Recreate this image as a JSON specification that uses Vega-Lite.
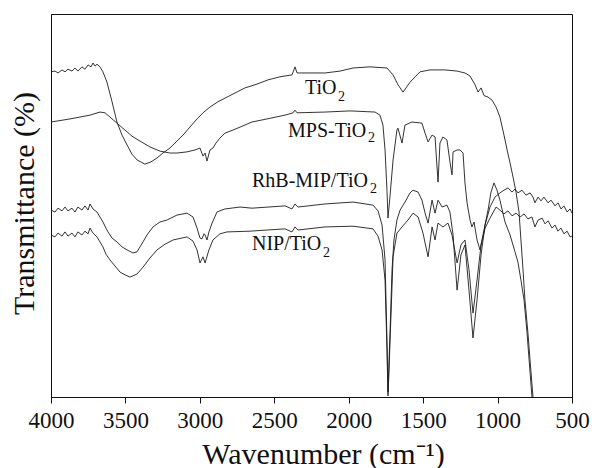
{
  "$schema": "https://vega.github.io/schema/vega-lite/v6.json",
  "width": 521,
  "height": 383,
  "autosize": "none",
  "padding": {"left": 51, "top": 14, "right": 20, "bottom": 71},
  "background": "white",
  "config": {
    "view": {"stroke": "#111", "strokeWidth": 1},
    "font": "Liberation Serif, Times New Roman, serif"
  },
  "datasets": {
    "spectra": [
      {"s":"TiO2","w":4000,"t":84.9},{"s":"TiO2","w":3973,"t":85.1},{"s":"TiO2","w":3953,"t":84.6},{"s":"TiO2","w":3926,"t":85.4},{"s":"TiO2","w":3906,"t":84.9},{"s":"TiO2","w":3886,"t":85.6},{"s":"TiO2","w":3859,"t":85.1},{"s":"TiO2","w":3839,"t":85.9},{"s":"TiO2","w":3819,"t":85.1},{"s":"TiO2","w":3792,"t":86.2},{"s":"TiO2","w":3772,"t":85.6},{"s":"TiO2","w":3751,"t":86.7},{"s":"TiO2","w":3731,"t":86.2},{"s":"TiO2","w":3718,"t":87.2},{"s":"TiO2","w":3704,"t":86.4},{"s":"TiO2","w":3691,"t":86.9},{"s":"TiO2","w":3671,"t":86.2},{"s":"TiO2","w":3651,"t":84.9},{"s":"TiO2","w":3624,"t":82.2},{"s":"TiO2","w":3590,"t":77.1},{"s":"TiO2","w":3557,"t":71.8},{"s":"TiO2","w":3523,"t":68.4},{"s":"TiO2","w":3489,"t":65.8},{"s":"TiO2","w":3456,"t":63.4},{"s":"TiO2","w":3422,"t":61.9},{"s":"TiO2","w":3369,"t":60.8},{"s":"TiO2","w":3328,"t":61.4},{"s":"TiO2","w":3288,"t":62.4},{"s":"TiO2","w":3248,"t":63.7},{"s":"TiO2","w":3201,"t":65.0},{"s":"TiO2","w":3154,"t":66.8},{"s":"TiO2","w":3113,"t":68.4},{"s":"TiO2","w":3066,"t":70.5},{"s":"TiO2","w":3019,"t":72.6},{"s":"TiO2","w":2979,"t":74.2},{"s":"TiO2","w":2932,"t":75.7},{"s":"TiO2","w":2878,"t":77.1},{"s":"TiO2","w":2798,"t":78.7},{"s":"TiO2","w":2697,"t":80.7},{"s":"TiO2","w":2616,"t":81.7},{"s":"TiO2","w":2542,"t":82.8},{"s":"TiO2","w":2462,"t":83.6},{"s":"TiO2","w":2381,"t":84.1},{"s":"TiO2","w":2368,"t":85.4},{"s":"TiO2","w":2361,"t":86.2},{"s":"TiO2","w":2347,"t":84.6},{"s":"TiO2","w":2327,"t":84.6},{"s":"TiO2","w":2159,"t":84.6},{"s":"TiO2","w":2058,"t":85.1},{"s":"TiO2","w":1971,"t":85.9},{"s":"TiO2","w":1857,"t":86.2},{"s":"TiO2","w":1743,"t":85.9},{"s":"TiO2","w":1702,"t":84.1},{"s":"TiO2","w":1669,"t":81.5},{"s":"TiO2","w":1635,"t":79.6},{"s":"TiO2","w":1615,"t":80.7},{"s":"TiO2","w":1588,"t":82.2},{"s":"TiO2","w":1554,"t":83.6},{"s":"TiO2","w":1521,"t":84.9},{"s":"TiO2","w":1454,"t":85.4},{"s":"TiO2","w":1353,"t":85.4},{"s":"TiO2","w":1272,"t":85.1},{"s":"TiO2","w":1219,"t":84.6},{"s":"TiO2","w":1185,"t":83.8},{"s":"TiO2","w":1151,"t":81.5},{"s":"TiO2","w":1131,"t":79.6},{"s":"TiO2","w":1111,"t":80.7},{"s":"TiO2","w":1091,"t":78.7},{"s":"TiO2","w":1064,"t":78.3},{"s":"TiO2","w":1037,"t":77.5},{"s":"TiO2","w":1010,"t":75.7},{"s":"TiO2","w":984,"t":73.1},{"s":"TiO2","w":957,"t":68.4},{"s":"TiO2","w":936,"t":64.5},{"s":"TiO2","w":916,"t":61.1},{"s":"TiO2","w":896,"t":57.4},{"s":"TiO2","w":876,"t":53.5},{"s":"TiO2","w":856,"t":48.3},{"s":"TiO2","w":843,"t":41.0},{"s":"TiO2","w":829,"t":33.2},{"s":"TiO2","w":816,"t":25.3},{"s":"TiO2","w":796,"t":16.7},{"s":"TiO2","w":782,"t":9.7},{"s":"TiO2","w":762,"t":0.0},{"s":"TiO2","w":755,"t":-1.3},

      {"s":"MPS","w":4000,"t":71.8},{"s":"MPS","w":3872,"t":72.6},{"s":"MPS","w":3738,"t":73.6},{"s":"MPS","w":3671,"t":74.4},{"s":"MPS","w":3637,"t":74.2},{"s":"MPS","w":3604,"t":73.1},{"s":"MPS","w":3557,"t":71.5},{"s":"MPS","w":3503,"t":69.7},{"s":"MPS","w":3456,"t":68.1},{"s":"MPS","w":3402,"t":66.8},{"s":"MPS","w":3335,"t":65.3},{"s":"MPS","w":3268,"t":64.2},{"s":"MPS","w":3201,"t":63.7},{"s":"MPS","w":3154,"t":63.7},{"s":"MPS","w":3086,"t":64.0},{"s":"MPS","w":3033,"t":64.5},{"s":"MPS","w":2999,"t":65.0},{"s":"MPS","w":2979,"t":62.9},{"s":"MPS","w":2965,"t":63.7},{"s":"MPS","w":2952,"t":61.6},{"s":"MPS","w":2932,"t":64.5},{"s":"MPS","w":2912,"t":65.0},{"s":"MPS","w":2892,"t":66.3},{"s":"MPS","w":2865,"t":67.6},{"s":"MPS","w":2831,"t":68.9},{"s":"MPS","w":2777,"t":69.7},{"s":"MPS","w":2650,"t":71.8},{"s":"MPS","w":2549,"t":72.6},{"s":"MPS","w":2428,"t":73.6},{"s":"MPS","w":2374,"t":74.2},{"s":"MPS","w":2361,"t":74.9},{"s":"MPS","w":2347,"t":74.2},{"s":"MPS","w":2159,"t":74.4},{"s":"MPS","w":1991,"t":74.7},{"s":"MPS","w":1823,"t":74.4},{"s":"MPS","w":1790,"t":73.6},{"s":"MPS","w":1770,"t":71.0},{"s":"MPS","w":1756,"t":64.5},{"s":"MPS","w":1743,"t":54.0},{"s":"MPS","w":1736,"t":46.7},{"s":"MPS","w":1722,"t":52.7},{"s":"MPS","w":1702,"t":61.9},{"s":"MPS","w":1676,"t":69.7},{"s":"MPS","w":1669,"t":70.2},{"s":"MPS","w":1642,"t":66.3},{"s":"MPS","w":1622,"t":71.0},{"s":"MPS","w":1575,"t":71.8},{"s":"MPS","w":1508,"t":71.5},{"s":"MPS","w":1487,"t":68.9},{"s":"MPS","w":1467,"t":66.6},{"s":"MPS","w":1440,"t":68.4},{"s":"MPS","w":1420,"t":67.9},{"s":"MPS","w":1400,"t":56.1},{"s":"MPS","w":1387,"t":66.3},{"s":"MPS","w":1367,"t":67.9},{"s":"MPS","w":1340,"t":67.1},{"s":"MPS","w":1320,"t":61.4},{"s":"MPS","w":1306,"t":58.0},{"s":"MPS","w":1299,"t":64.0},{"s":"MPS","w":1272,"t":64.5},{"s":"MPS","w":1252,"t":64.5},{"s":"MPS","w":1232,"t":63.7},{"s":"MPS","w":1219,"t":55.9},{"s":"MPS","w":1205,"t":50.7},{"s":"MPS","w":1185,"t":46.2},{"s":"MPS","w":1172,"t":44.4},{"s":"MPS","w":1158,"t":45.7},{"s":"MPS","w":1138,"t":41.0},{"s":"MPS","w":1118,"t":38.4},{"s":"MPS","w":1098,"t":42.3},{"s":"MPS","w":1064,"t":48.8},{"s":"MPS","w":1044,"t":53.5},{"s":"MPS","w":1024,"t":55.9},{"s":"MPS","w":1004,"t":54.0},{"s":"MPS","w":984,"t":51.4},{"s":"MPS","w":950,"t":45.7},{"s":"MPS","w":916,"t":42.3},{"s":"MPS","w":883,"t":37.9},{"s":"MPS","w":863,"t":35.2},{"s":"MPS","w":843,"t":30.5},{"s":"MPS","w":822,"t":25.3},{"s":"MPS","w":802,"t":16.7},{"s":"MPS","w":769,"t":0.0},{"s":"MPS","w":762,"t":-1.8},

      {"s":"RhB","w":4000,"t":48.8},{"s":"RhB","w":3973,"t":48.3},{"s":"RhB","w":3953,"t":49.3},{"s":"RhB","w":3926,"t":48.6},{"s":"RhB","w":3906,"t":49.6},{"s":"RhB","w":3886,"t":48.6},{"s":"RhB","w":3859,"t":49.3},{"s":"RhB","w":3839,"t":48.3},{"s":"RhB","w":3819,"t":49.6},{"s":"RhB","w":3792,"t":48.8},{"s":"RhB","w":3772,"t":49.9},{"s":"RhB","w":3751,"t":48.8},{"s":"RhB","w":3738,"t":50.4},{"s":"RhB","w":3718,"t":49.1},{"s":"RhB","w":3691,"t":48.3},{"s":"RhB","w":3671,"t":47.0},{"s":"RhB","w":3651,"t":45.7},{"s":"RhB","w":3631,"t":44.1},{"s":"RhB","w":3617,"t":43.1},{"s":"RhB","w":3590,"t":41.5},{"s":"RhB","w":3557,"t":40.5},{"s":"RhB","w":3523,"t":39.2},{"s":"RhB","w":3489,"t":38.4},{"s":"RhB","w":3449,"t":37.6},{"s":"RhB","w":3422,"t":37.9},{"s":"RhB","w":3402,"t":39.2},{"s":"RhB","w":3382,"t":40.5},{"s":"RhB","w":3355,"t":42.3},{"s":"RhB","w":3315,"t":44.4},{"s":"RhB","w":3268,"t":45.7},{"s":"RhB","w":3221,"t":46.2},{"s":"RhB","w":3154,"t":47.5},{"s":"RhB","w":3086,"t":48.0},{"s":"RhB","w":3046,"t":47.0},{"s":"RhB","w":3019,"t":44.1},{"s":"RhB","w":2999,"t":41.5},{"s":"RhB","w":2986,"t":41.3},{"s":"RhB","w":2972,"t":42.6},{"s":"RhB","w":2965,"t":42.3},{"s":"RhB","w":2952,"t":41.0},{"s":"RhB","w":2939,"t":43.1},{"s":"RhB","w":2918,"t":45.4},{"s":"RhB","w":2885,"t":48.3},{"s":"RhB","w":2831,"t":49.1},{"s":"RhB","w":2730,"t":49.6},{"s":"RhB","w":2650,"t":49.3},{"s":"RhB","w":2428,"t":49.9},{"s":"RhB","w":2381,"t":49.1},{"s":"RhB","w":2361,"t":50.4},{"s":"RhB","w":2341,"t":49.6},{"s":"RhB","w":2159,"t":50.4},{"s":"RhB","w":1971,"t":50.9},{"s":"RhB","w":1837,"t":50.1},{"s":"RhB","w":1803,"t":48.6},{"s":"RhB","w":1776,"t":44.9},{"s":"RhB","w":1756,"t":35.8},{"s":"RhB","w":1743,"t":14.9},{"s":"RhB","w":1736,"t":1.3},{"s":"RhB","w":1729,"t":9.7},{"s":"RhB","w":1722,"t":17.5},{"s":"RhB","w":1709,"t":33.2},{"s":"RhB","w":1696,"t":41.0},{"s":"RhB","w":1676,"t":46.2},{"s":"RhB","w":1655,"t":48.8},{"s":"RhB","w":1622,"t":50.9},{"s":"RhB","w":1588,"t":53.3},{"s":"RhB","w":1568,"t":54.0},{"s":"RhB","w":1534,"t":53.5},{"s":"RhB","w":1508,"t":51.4},{"s":"RhB","w":1487,"t":48.0},{"s":"RhB","w":1467,"t":45.4},{"s":"RhB","w":1440,"t":51.4},{"s":"RhB","w":1420,"t":48.0},{"s":"RhB","w":1400,"t":51.4},{"s":"RhB","w":1373,"t":49.6},{"s":"RhB","w":1340,"t":50.1},{"s":"RhB","w":1320,"t":48.3},{"s":"RhB","w":1299,"t":42.3},{"s":"RhB","w":1272,"t":27.9},{"s":"RhB","w":1246,"t":37.1},{"s":"RhB","w":1219,"t":39.7},{"s":"RhB","w":1192,"t":27.9},{"s":"RhB","w":1165,"t":15.4},{"s":"RhB","w":1138,"t":25.3},{"s":"RhB","w":1111,"t":37.1},{"s":"RhB","w":1084,"t":44.9},{"s":"RhB","w":1051,"t":49.6},{"s":"RhB","w":1017,"t":52.2},{"s":"RhB","w":984,"t":53.3},{"s":"RhB","w":957,"t":54.0},{"s":"RhB","w":930,"t":54.6},{"s":"RhB","w":903,"t":53.5},{"s":"RhB","w":883,"t":54.3},{"s":"RhB","w":863,"t":53.3},{"s":"RhB","w":836,"t":54.0},{"s":"RhB","w":809,"t":52.7},{"s":"RhB","w":782,"t":53.3},{"s":"RhB","w":762,"t":52.2},{"s":"RhB","w":749,"t":50.7},{"s":"RhB","w":728,"t":52.2},{"s":"RhB","w":708,"t":51.2},{"s":"RhB","w":688,"t":52.2},{"s":"RhB","w":661,"t":50.7},{"s":"RhB","w":641,"t":51.4},{"s":"RhB","w":614,"t":49.9},{"s":"RhB","w":594,"t":50.7},{"s":"RhB","w":574,"t":49.1},{"s":"RhB","w":554,"t":49.9},{"s":"RhB","w":533,"t":48.3},{"s":"RhB","w":513,"t":49.1},{"s":"RhB","w":500,"t":48.0},

      {"s":"NIP","w":4000,"t":42.3},{"s":"NIP","w":3973,"t":41.8},{"s":"NIP","w":3953,"t":42.8},{"s":"NIP","w":3926,"t":42.0},{"s":"NIP","w":3906,"t":43.1},{"s":"NIP","w":3886,"t":42.0},{"s":"NIP","w":3859,"t":42.8},{"s":"NIP","w":3839,"t":41.8},{"s":"NIP","w":3819,"t":43.1},{"s":"NIP","w":3792,"t":42.3},{"s":"NIP","w":3772,"t":43.3},{"s":"NIP","w":3751,"t":42.6},{"s":"NIP","w":3738,"t":44.1},{"s":"NIP","w":3718,"t":42.8},{"s":"NIP","w":3691,"t":41.8},{"s":"NIP","w":3671,"t":40.5},{"s":"NIP","w":3651,"t":39.2},{"s":"NIP","w":3631,"t":37.3},{"s":"NIP","w":3604,"t":35.8},{"s":"NIP","w":3570,"t":34.2},{"s":"NIP","w":3536,"t":32.6},{"s":"NIP","w":3503,"t":31.9},{"s":"NIP","w":3469,"t":31.3},{"s":"NIP","w":3422,"t":32.1},{"s":"NIP","w":3382,"t":33.9},{"s":"NIP","w":3335,"t":36.3},{"s":"NIP","w":3288,"t":38.4},{"s":"NIP","w":3234,"t":39.9},{"s":"NIP","w":3180,"t":41.0},{"s":"NIP","w":3086,"t":41.8},{"s":"NIP","w":3046,"t":40.7},{"s":"NIP","w":3019,"t":38.4},{"s":"NIP","w":2999,"t":35.0},{"s":"NIP","w":2979,"t":36.6},{"s":"NIP","w":2965,"t":35.0},{"s":"NIP","w":2939,"t":38.4},{"s":"NIP","w":2912,"t":41.0},{"s":"NIP","w":2865,"t":42.6},{"s":"NIP","w":2818,"t":43.1},{"s":"NIP","w":2663,"t":43.3},{"s":"NIP","w":2428,"t":43.9},{"s":"NIP","w":2381,"t":43.1},{"s":"NIP","w":2361,"t":44.4},{"s":"NIP","w":2341,"t":43.6},{"s":"NIP","w":2159,"t":44.4},{"s":"NIP","w":1971,"t":44.6},{"s":"NIP","w":1837,"t":43.9},{"s":"NIP","w":1803,"t":42.0},{"s":"NIP","w":1776,"t":38.4},{"s":"NIP","w":1756,"t":30.5},{"s":"NIP","w":1743,"t":12.3},{"s":"NIP","w":1736,"t":0.3},{"s":"NIP","w":1729,"t":7.0},{"s":"NIP","w":1722,"t":14.9},{"s":"NIP","w":1702,"t":36.6},{"s":"NIP","w":1676,"t":42.8},{"s":"NIP","w":1642,"t":44.4},{"s":"NIP","w":1602,"t":46.2},{"s":"NIP","w":1568,"t":48.0},{"s":"NIP","w":1534,"t":47.0},{"s":"NIP","w":1501,"t":42.8},{"s":"NIP","w":1467,"t":36.6},{"s":"NIP","w":1440,"t":44.4},{"s":"NIP","w":1420,"t":41.0},{"s":"NIP","w":1400,"t":45.4},{"s":"NIP","w":1367,"t":44.4},{"s":"NIP","w":1333,"t":45.4},{"s":"NIP","w":1306,"t":42.3},{"s":"NIP","w":1272,"t":35.0},{"s":"NIP","w":1246,"t":39.7},{"s":"NIP","w":1219,"t":41.0},{"s":"NIP","w":1192,"t":33.2},{"s":"NIP","w":1165,"t":21.9},{"s":"NIP","w":1138,"t":30.5},{"s":"NIP","w":1111,"t":39.7},{"s":"NIP","w":1084,"t":44.1},{"s":"NIP","w":1051,"t":46.7},{"s":"NIP","w":1010,"t":49.6},{"s":"NIP","w":984,"t":48.8},{"s":"NIP","w":957,"t":47.8},{"s":"NIP","w":930,"t":48.6},{"s":"NIP","w":903,"t":47.3},{"s":"NIP","w":876,"t":48.0},{"s":"NIP","w":849,"t":47.0},{"s":"NIP","w":822,"t":47.8},{"s":"NIP","w":796,"t":46.5},{"s":"NIP","w":769,"t":47.0},{"s":"NIP","w":749,"t":44.4},{"s":"NIP","w":728,"t":46.2},{"s":"NIP","w":701,"t":46.7},{"s":"NIP","w":681,"t":45.2},{"s":"NIP","w":661,"t":46.0},{"s":"NIP","w":634,"t":44.1},{"s":"NIP","w":614,"t":44.9},{"s":"NIP","w":594,"t":43.3},{"s":"NIP","w":574,"t":44.1},{"s":"NIP","w":554,"t":42.6},{"s":"NIP","w":533,"t":43.3},{"s":"NIP","w":513,"t":41.8},{"s":"NIP","w":500,"t":42.0}
    ],
    "labels": [
      {"txt":"TiO","w":2294,"t":79.1},
      {"txt":"MPS-TiO","w":2408,"t":67.9},
      {"txt":"RhB-MIP/TiO","w":2650,"t":54.8},
      {"txt":"NIP/TiO","w":2650,"t":38.4}
    ],
    "subs": [
      {"txt":"2","w":2072,"t":77.3},
      {"txt":"2","w":1870,"t":66.6},
      {"txt":"2","w":1857,"t":53.3},
      {"txt":"2","w":2173,"t":36.6}
    ]
  },
  "layer": [
    {
      "data": {"name": "spectra"},
      "mark": {"type": "line", "clip": true, "color": "#1c1c1c", "strokeWidth": 0.9, "interpolate": "linear"},
      "encoding": {
        "x": {
          "field": "w", "type": "quantitative",
          "scale": {"domain": [500, 4000], "reverse": true, "nice": false, "zero": false},
          "axis": {
            "title": "Wavenumber (cm\u207B\u00B9)",
            "values": [4000, 3750, 3500, 3250, 3000, 2750, 2500, 2250, 2000, 1750, 1500, 1250, 1000, 750, 500],
            "labelExpr": "datum.value % 500 === 0 ? datum.value : ''",
            "grid": false,
            "domainColor": "#111",
            "tickColor": "#111",
            "tickSize": 6,
            "labelFont": "Liberation Serif, Times New Roman, serif",
            "labelFontSize": 23,
            "labelColor": "#111",
            "labelPadding": 6,
            "labelOverlap": false,
            "labelFlush": false,
            "titleFont": "Liberation Serif, Times New Roman, serif",
            "titleFontSize": 30,
            "titleFontWeight": "normal",
            "titleColor": "#111",
            "titleBaseline": "alphabetic",
            "titleY": 66,
            "titleX": 272
          }
        },
        "y": {
          "field": "t", "type": "quantitative",
          "scale": {"domain": [0, 100], "nice": false, "zero": false},
          "axis": {
            "title": "Transmittance (%)",
            "ticks": false,
            "labels": false,
            "grid": false,
            "domainColor": "#111",
            "titleFont": "Liberation Serif, Times New Roman, serif",
            "titleFontSize": 30,
            "titleFontWeight": "normal",
            "titleColor": "#111",
            "titleBaseline": "alphabetic",
            "titleAngle": -90,
            "titleX": -18,
            "titleY": 189
          }
        },
        "detail": {"field": "s"}
      }
    },
    {
      "data": {"name": "labels"},
      "mark": {"type": "text", "align": "left", "baseline": "alphabetic", "font": "Liberation Serif, Times New Roman, serif", "fontSize": 20, "color": "#111"},
      "encoding": {
        "x": {"field": "w", "type": "quantitative"},
        "y": {"field": "t", "type": "quantitative"},
        "text": {"field": "txt"}
      }
    },
    {
      "data": {"name": "subs"},
      "mark": {"type": "text", "align": "left", "baseline": "alphabetic", "font": "Liberation Serif, Times New Roman, serif", "fontSize": 14, "color": "#111"},
      "encoding": {
        "x": {"field": "w", "type": "quantitative"},
        "y": {"field": "t", "type": "quantitative"},
        "text": {"field": "txt"}
      }
    }
  ]
}
